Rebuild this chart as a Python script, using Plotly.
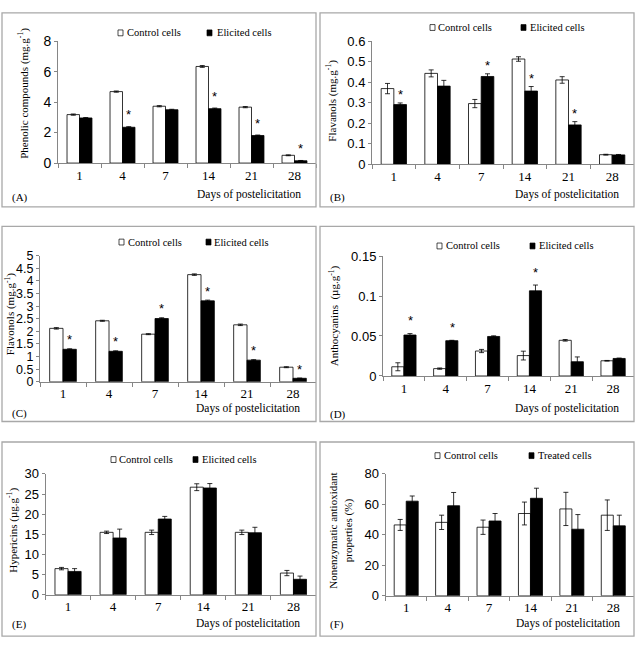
import plotly.graph_objects as go

W, H = 637, 647
SERIF = "Liberation Serif"
SANS = "Liberation Sans"

days = ["1", "4", "7", "14", "21", "28"]

# (A) Phenolic compounds (mg.g-1)
phen_ctrl = [3.18, 4.69, 3.73, 6.34, 3.67, 0.51]
phen_ctrl_err = [0.04, 0.04, 0.04, 0.06, 0.04, 0.03]
phen_elic = [2.96, 2.35, 3.50, 3.57, 1.81, 0.15]
phen_elic_err = [0.03, 0.04, 0.03, 0.04, 0.03, 0.02]
phen_sig = [0, 1, 0, 1, 1, 1]

# (B) Flavanols (mg.g-1)
flava_ctrl = [0.369, 0.443, 0.296, 0.513, 0.411, 0.047]
flava_ctrl_err = [0.025, 0.017, 0.020, 0.011, 0.016, 0.002]
flava_elic = [0.291, 0.381, 0.428, 0.357, 0.192, 0.046]
flava_elic_err = [0.008, 0.028, 0.013, 0.022, 0.016, 0.002]
flava_sig = [1, 0, 1, 1, 1, 0]

# (C) Flavonols (mg.g-1)
flavo_ctrl = [2.12, 2.42, 1.89, 4.25, 2.26, 0.58]
flavo_ctrl_err = [0.03, 0.02, 0.02, 0.03, 0.03, 0.02]
flavo_elic = [1.29, 1.21, 2.51, 3.21, 0.86, 0.14]
flavo_elic_err = [0.02, 0.02, 0.03, 0.03, 0.02, 0.01]
flavo_sig = [1, 1, 1, 1, 1, 1]

# (D) Anthocyanins (ug.g-1)
antho_ctrl = [0.0115, 0.0092, 0.0312, 0.0255, 0.0446, 0.0190]
antho_ctrl_err = [0.0050, 0.0008, 0.0020, 0.0055, 0.0010, 0.0004]
antho_elic = [0.0512, 0.0441, 0.0494, 0.1065, 0.0178, 0.0219]
antho_elic_err = [0.0018, 0.0005, 0.0008, 0.0072, 0.0060, 0.0005]
antho_sig = [1, 1, 0, 1, 0, 0]

# (E) Hypericins (ug.g-1)
hyp_ctrl = [6.5, 15.5, 15.5, 26.7, 15.5, 5.4]
hyp_ctrl_err = [0.3, 0.3, 0.55, 0.85, 0.55, 0.65]
hyp_elic = [5.8, 14.1, 18.8, 26.5, 15.4, 3.85]
hyp_elic_err = [0.7, 2.2, 0.65, 1.1, 1.35, 0.8]
hyp_sig = [0, 0, 0, 0, 0, 0]

# (F) Nonenzymatic antioxidant properties (%)
anti_ctrl = [46.5, 48.2, 45.0, 54.0, 57.0, 52.9]
anti_ctrl_err = [3.6, 4.7, 4.7, 7.5, 10.9, 10.0]
anti_elic = [62.1, 59.1, 49.1, 64.0, 43.7, 45.9]
anti_elic_err = [3.4, 8.7, 4.9, 6.6, 9.6, 7.0]
anti_sig = [0, 0, 0, 0, 0, 0]

panels = [
    dict(tag="(A)", ctrl=phen_ctrl, ce=phen_ctrl_err, elic=phen_elic, ee=phen_elic_err, sig=phen_sig,
         ymax=8, dtick=2, ytitle="Phenolic compounds (mg.g<sup>-1</sup>)", second="Elicited cells",
         box=(2, 5, 316, 204), plot=(58, 316, 34, 159), yt=(24, 88),
         leg=(118, 125, 207, 215, 25.5), lab=(10, 194), dop=(303, 191), tick=14, star=12),
    dict(tag="(B)", ctrl=flava_ctrl, ce=flava_ctrl_err, elic=flava_elic, ee=flava_elic_err, sig=flava_sig,
         ymax=0.6, dtick=0.1, ytitle="Flavanols (mg.g<sup>-1</sup>)", second="Elicited cells",
         box=(320, 5, 634, 204), plot=(372, 634, 34, 160.3), yt=(332, 95),
         leg=(430, 436, 521, 528, 20), lab=(328, 194), dop=(621, 191), tick=13, star=8),
    dict(tag="(C)", ctrl=flavo_ctrl, ce=flavo_ctrl_err, elic=flavo_elic, ee=flavo_elic_err, sig=flavo_sig,
         ymax=5, dtick=0.5, ytitle="Flavonols (mg.g<sup>-1</sup>)", second="Elicited cells",
         box=(2, 224, 316, 424), plot=(40, 316, 254, 383.3), yt=(10, 314),
         leg=(119, 126, 206, 212, 240), lab=(10, 416), dop=(302, 411), tick=12.5, star=9),
    dict(tag="(D)", ctrl=antho_ctrl, ce=antho_ctrl_err, elic=antho_elic, ee=antho_elic_err, sig=antho_sig,
         ymax=0.15, dtick=0.05, ytitle="Anthocyanins  (\u00b5g.g<sup>-1</sup>)", second="Elicited cells",
         box=(320, 224, 634, 424), plot=(383, 634, 254.3, 377.3), yt=(334, 316),
         leg=(437, 444, 530, 537, 244), lab=(328, 417), dop=(621, 411), tick=13, star=13),
    dict(tag="(E)", ctrl=hyp_ctrl, ce=hyp_ctrl_err, elic=hyp_elic, ee=hyp_elic_err, sig=hyp_sig,
         ymax=30, dtick=5, ytitle="Hypericins (\u00b5g.g<sup>-1</sup>)", second="Elicited cells",
         box=(2, 445, 316, 644), plot=(45.5, 316, 477.7, 601.7), yt=(13, 536),
         leg=(111, 117, 193, 200, 463), lab=(10, 632), dop=(302, 631), tick=13, star=10),
    dict(tag="(F)", ctrl=anti_ctrl, ce=anti_ctrl_err, elic=anti_elic, ee=anti_elic_err, sig=anti_sig,
         ymax=80, dtick=20, ytitle="Nonenzymatic antioxidant<br>properties (%)", second="Treated cells",
         box=(320, 445, 634, 644), plot=(385.5, 634, 477.7, 602.7), yt=(341, 536),
         leg=(435, 442, 529, 536, 459), lab=(328, 632), dop=(622, 631), tick=13, star=10),
]


def px(x):
    return x / W


def py(y):
    return 1 - y / H


fig = go.Figure()
shapes, annotations = [], []
layout = dict(width=W, height=H, margin=dict(l=0, r=0, t=0, b=0),
              paper_bgcolor="white", plot_bgcolor="white", showlegend=False,
              barmode="group", bargap=0.42, bargroupgap=0)

AXC = "#868686"
for i, p in enumerate(panels):
    n = "" if i == 0 else str(i + 1)
    xa, ya = "x" + n, "y" + n
    fig.add_trace(go.Bar(x=days, y=p["ctrl"], name="Control cells", xaxis=xa, yaxis=ya,
                         marker=dict(color="white", line=dict(color="black", width=0.8)),
                         error_y=dict(type="data", array=p["ce"], color="black", thickness=0.8, width=2.5)))
    fig.add_trace(go.Bar(x=days, y=p["elic"], name=p["second"], xaxis=xa, yaxis=ya,
                         marker=dict(color="black", line=dict(color="black", width=0.8)),
                         error_y=dict(type="data", array=p["ee"], color="black", thickness=0.8, width=2.5)))
    x0, x1, yt, yb = p["plot"]
    layout["xaxis" + n] = dict(domain=[px(x0), px(x1)], anchor=ya, type="category",
                               categoryorder="array", categoryarray=days,
                               range=[-0.5, len(days) - 0.5], tickangle=0,
                               showline=True, linecolor=AXC, linewidth=1, ticks="outside",
                               tickson="boundaries", ticklen=4, tickcolor=AXC, showgrid=False,
                               tickfont=dict(family=SERIF, size=13, color="black"), fixedrange=True)
    layout["yaxis" + n] = dict(domain=[py(yb), py(yt)], anchor=xa, range=[0, p["ymax"]],
                               dtick=p["dtick"], tick0=0, showline=True, linecolor=AXC, linewidth=1,
                               ticks="outside", ticklen=3, tickcolor=AXC, showgrid=False, zeroline=False,
                               tickfont=dict(family=SANS, size=p["tick"], color="black"), fixedrange=True)
    # panel frame
    bx0, by0, bx1, by1 = p["box"]
    shapes.append(dict(type="rect", xref="paper", yref="paper", x0=px(bx0), x1=px(bx1),
                       y0=py(by1), y1=py(by0), line=dict(color="#a8a8a8", width=1.3)))
    # legend
    s1, t1, s2, t2, ly = p["leg"]
    shapes.append(dict(type="rect", xref="paper", yref="paper", x0=px(s1), x1=px(s1 + 5),
                       y0=py(ly + 3), y1=py(ly - 3), fillcolor="white", line=dict(color="black", width=0.7)))
    shapes.append(dict(type="rect", xref="paper", yref="paper", x0=px(s2), x1=px(s2 + 5),
                       y0=py(ly + 3), y1=py(ly - 3), fillcolor="black", line=dict(color="black", width=0.7)))
    for tx, txt in ((t1, "Control cells"), (t2, p["second"])):
        annotations.append(dict(text=txt, xref="paper", yref="paper", x=px(tx), y=py(ly),
                                xanchor="left", yanchor="middle", showarrow=False,
                                font=dict(family=SERIF, size=10.5, color="black")))
    # y title
    annotations.append(dict(text=p["ytitle"], xref="paper", yref="paper", x=px(p["yt"][0]),
                            y=py(p["yt"][1]), textangle=-90, xanchor="center", yanchor="middle",
                            showarrow=False, font=dict(family=SERIF, size=11, color="black")))
    # x title
    annotations.append(dict(text="Days of postelicitation", xref="paper", yref="paper",
                            x=px(p["dop"][0]), y=py(p["dop"][1]), xanchor="right", yanchor="middle",
                            showarrow=False, font=dict(family=SERIF, size=11.5, color="black")))
    # panel tag
    annotations.append(dict(text=p["tag"], xref="paper", yref="paper", x=px(p["lab"][0]),
                            y=py(p["lab"][1]), xanchor="left", yanchor="middle", showarrow=False,
                            font=dict(family=SERIF, size=11, color="black")))
    # significance stars (positioned by category index on the category axis)
    for k, (v, e, s) in enumerate(zip(p["elic"], p["ee"], p["sig"])):
        if s:
            annotations.append(dict(text="*", xref=xa, yref=ya, x=k, y=v + e, xshift=6.3,
                                    yshift=p["star"], xanchor="center", yanchor="middle",
                                    showarrow=False, font=dict(family=SANS, size=13, color="black")))

layout["shapes"] = shapes
layout["annotations"] = annotations
fig.update_layout(**layout)
fig.write_html("out.html")
